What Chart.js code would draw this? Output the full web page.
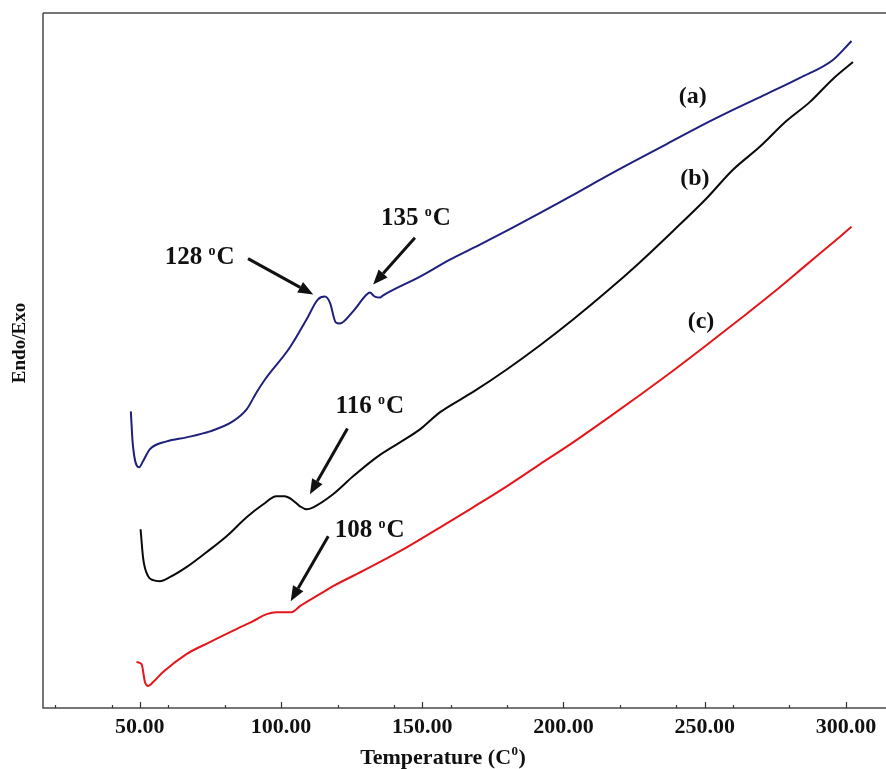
<!DOCTYPE html>
<html>
<head>
<meta charset="utf-8">
<script src="https://cdn.jsdelivr.net/npm/chart.js@4.4.1/dist/chart.umd.min.js"></script>
<style>
  html, body { margin: 0; padding: 0; background: #ffffff; }
  #wrap { width: 886px; height: 769px; position: relative; }
</style>
</head>
<body>
<div id="wrap"><canvas id="c" width="886" height="769"></canvas></div>
<script>
// ---- Data (temperature, heat flow in arbitrary units) ----
const tempA = [46.8, 47.5, 49.75, 51.1, 53.5, 59.5, 66.5, 74.8, 82.9, 87.8, 91.3, 94.3, 103.1, 109, 113, 115.5, 117.3, 119.4, 120.8, 125.4, 130.3, 131.4, 133.2, 135, 136, 149.2, 159.8, 170.4, 181.0, 191.6, 202.3, 212.9, 224.6, 236.7, 248.3, 260.0, 272.0, 283.7, 295.4, 302.0];
const heatA = [29.7, 26.4, 24.1, 24.7, 25.9, 26.7, 27.1, 27.7, 28.7, 29.9, 31.6, 32.9, 36.1, 38.9, 40.9, 41.2, 40.6, 38.6, 38.5, 39.7, 41.4, 41.6, 41.2, 41.1, 41.3, 43.2, 44.9, 46.4, 47.95, 49.55, 51.2, 52.9, 54.7, 56.5, 58.25, 59.9, 61.5, 63.1, 64.9, 66.8];

const tempB = [50.25, 51.2, 52.9, 54.7, 57.1, 60.6, 66.5, 73.6, 80.7, 87.8, 93.7, 98.4, 101.3, 103.7, 106.7, 109, 111.4, 118.4, 125.5, 133.8, 142.1, 149.2, 156.2, 168.0, 179.9, 191.6, 203.4, 215.3, 227.1, 238.9, 250.7, 260.0, 269.5, 279.0, 287.3, 295.4, 302.5];
const heatB = [17.9, 14.9, 13.2, 12.8, 12.7, 13.1, 14.1, 15.6, 17.2, 19.1, 20.4, 21.2, 21.2, 20.9, 20.2, 19.9, 20.1, 21.4, 23.2, 25.1, 26.6, 27.9, 29.6, 31.65, 33.9, 36.3, 38.9, 41.7, 44.65, 47.8, 51.05, 53.9, 56.2, 58.8, 60.7, 63.0, 64.7];

const tempC = [48.8, 50.6, 51.8, 52.9, 54.7, 58.2, 66.5, 74.8, 84.2, 90.1, 94.9, 98.4, 103.7, 106.7, 113.7, 118.4, 130.2, 142.1, 156.2, 168.0, 179.9, 191.6, 203.4, 215.3, 227.1, 238.9, 250.7, 262.5, 274.3, 286.1, 297.9, 302.0];
const heatC = [4.6, 4.4, 2.6, 2.2, 2.6, 3.6, 5.4, 6.6, 7.9, 8.7, 9.4, 9.6, 9.6, 10.2, 11.4, 12.2, 13.9, 15.7, 18.07, 20.1, 22.2, 24.4, 26.6, 28.96, 31.35, 33.8, 36.35, 38.95, 41.6, 44.4, 47.2, 48.2];

const majorTicks = [50, 100, 150, 200, 250, 300];
const minorTicks = [20, 40, 60, 80, 120, 140, 160, 180, 220, 240, 260, 280];

const curveLabels = ['(a)', '(b)', '(c)'];
const curveLabelT = [245.8, 246.5, 248.7];
const curveLabelY = [61.2, 53.0, 38.7];

const peakTexts = ['128', '135', '116', '108'];
const peakTextT = [71.2, 147.7, 131.4, 131.4];
const peakTextY = [45.3, 49.2, 30.4, 18.0];
// arrows: tail (T,Y) -> head (T,Y)
const arrowTailT = [88.3, 147.4, 123.5, 116.7];
const arrowTailY = [45.0, 47.1, 28.0, 17.2];
const arrowHeadT = [111.4, 132.6, 110.2, 103.4];
const arrowHeadY = [41.4, 42.4, 21.4, 10.7];

const xTitle = 'Temperature (C';
const xTitleSup = '0';
const yTitle = 'Endo/Exo';

const toXY = (t, h) => t.map((v, i) => ({ x: v, y: h[i] }));
const FONT = '"Liberation Serif", "Times New Roman", serif';

const decorPlugin = {
  id: 'decor',
  afterDraw(chart) {
    const ctx = chart.ctx;
    const ca = chart.chartArea;
    const xs = chart.scales.x, ys = chart.scales.y;
    ctx.save();
    // frame: left axis, top line, bottom axis
    ctx.strokeStyle = '#4a4a4a';
    ctx.lineWidth = 1.5;
    ctx.beginPath();
    ctx.moveTo(ca.left, ca.top);
    ctx.lineTo(chart.width, ca.top);
    ctx.moveTo(ca.left, ca.top);
    ctx.lineTo(ca.left, ca.bottom);
    ctx.lineTo(chart.width, ca.bottom);
    ctx.stroke();
    // inward ticks
    ctx.strokeStyle = '#333';
    ctx.lineWidth = 1.2;
    ctx.beginPath();
    majorTicks.forEach(v => { const px = Math.round(xs.getPixelForValue(v)) + 0.5; ctx.moveTo(px, ca.bottom); ctx.lineTo(px, ca.bottom - 6); });
    minorTicks.forEach(v => { const px = Math.round(xs.getPixelForValue(v)) + 0.5; ctx.moveTo(px, ca.bottom); ctx.lineTo(px, ca.bottom - 3); });
    ctx.stroke();

    ctx.fillStyle = '#111';
    // curve labels
    ctx.font = 'bold 24px ' + FONT;
    ctx.textAlign = 'center';
    ctx.textBaseline = 'middle';
    curveLabels.forEach((t, i) => ctx.fillText(t, xs.getPixelForValue(curveLabelT[i]), ys.getPixelForValue(curveLabelY[i])));

    // peak labels "NNN ºC"
    const big = 25, small = 14;
    peakTexts.forEach((t, i) => {
      const cx = xs.getPixelForValue(peakTextT[i]);
      const cy = ys.getPixelForValue(peakTextY[i]);
      ctx.font = 'bold ' + big + 'px ' + FONT;
      const w1 = ctx.measureText(t + ' ').width;
      const w3 = ctx.measureText('C').width;
      ctx.font = 'bold ' + small + 'px ' + FONT;
      const w2 = ctx.measureText('o').width + 1;
      const total = w1 + w2 + w3;
      let x = cx - total / 2;
      const base = cy + big * 0.34;
      ctx.textAlign = 'left';
      ctx.textBaseline = 'alphabetic';
      ctx.font = 'bold ' + big + 'px ' + FONT;
      ctx.fillText(t + ' ', x, base);
      x += w1;
      ctx.font = 'bold ' + small + 'px ' + FONT;
      ctx.fillText('o', x, base - big * 0.36);
      x += w2;
      ctx.font = 'bold ' + big + 'px ' + FONT;
      ctx.fillText('C', x, base);
    });

    // arrows
    ctx.strokeStyle = '#111';
    ctx.fillStyle = '#111';
    ctx.lineWidth = 3;
    arrowTailT.forEach((t, i) => {
      const x1 = xs.getPixelForValue(t), y1 = ys.getPixelForValue(arrowTailY[i]);
      const x2 = xs.getPixelForValue(arrowHeadT[i]), y2 = ys.getPixelForValue(arrowHeadY[i]);
      const ang = Math.atan2(y2 - y1, x2 - x1);
      const hl = 15, hw = 6;
      const bx = x2 - hl * Math.cos(ang), by = y2 - hl * Math.sin(ang);
      ctx.beginPath();
      ctx.moveTo(x1, y1);
      ctx.lineTo(bx, by);
      ctx.stroke();
      ctx.beginPath();
      ctx.moveTo(x2, y2);
      ctx.lineTo(bx + hw * Math.sin(ang), by - hw * Math.cos(ang));
      ctx.lineTo(bx - hw * Math.sin(ang), by + hw * Math.cos(ang));
      ctx.closePath();
      ctx.fill();
    });

    // x title with superscript
    ctx.fillStyle = '#111';
    ctx.textAlign = 'left';
    ctx.textBaseline = 'alphabetic';
    ctx.font = 'bold 22px ' + FONT;
    const tw = ctx.measureText(xTitle).width;
    const pw = ctx.measureText(')').width;
    ctx.font = 'bold 13px ' + FONT;
    const sw = ctx.measureText(xTitleSup).width + 1;
    let tx = 443 - (tw + sw + pw) / 2;
    const tb = 764;
    ctx.font = 'bold 22px ' + FONT;
    ctx.fillText(xTitle, tx, tb);
    tx += tw;
    ctx.font = 'bold 13px ' + FONT;
    ctx.fillText(xTitleSup, tx + 0.5, tb - 9);
    tx += sw;
    ctx.font = 'bold 22px ' + FONT;
    ctx.fillText(')', tx, tb);

    // y title
    ctx.save();
    ctx.translate(20, 343);
    ctx.rotate(-Math.PI / 2);
    ctx.font = 'bold 19px ' + FONT;
    ctx.textAlign = 'center';
    ctx.textBaseline = 'middle';
    ctx.fillText(yTitle, 0, 0);
    ctx.restore();

    ctx.restore();
  }
};

new Chart(document.getElementById('c'), {
  type: 'line',
  data: {
    datasets: [
      { label: '(a)', data: toXY(tempA, heatA), borderColor: '#1f1f7e', borderWidth: 2 },
      { label: '(b)', data: toXY(tempB, heatB), borderColor: '#0a0a0a', borderWidth: 2 },
      { label: '(c)', data: toXY(tempC, heatC), borderColor: '#e4161a', borderWidth: 2 }
    ]
  },
  options: {
    responsive: false,
    animation: false,
    events: [],
    layout: { padding: { left: 43, right: 0, top: 13, bottom: 22.6 } },
    elements: {
      point: { radius: 0 },
      line: { cubicInterpolationMode: 'monotone', fill: false }
    },
    plugins: { legend: { display: false }, tooltip: { enabled: false } },
    scales: {
      x: {
        type: 'linear',
        min: 15.7,
        max: 314.2,
        grid: { display: false, drawTicks: false },
        border: { display: false },
        afterBuildTicks: (s) => { s.ticks = majorTicks.map(v => ({ value: v })); },
        ticks: {
          padding: 6,
          autoSkip: false,
          maxRotation: 0,
          color: '#111',
          font: { family: FONT, size: 22, weight: 'bold' },
          callback: (v) => Number(v).toFixed(2)
        }
      },
      y: {
        display: false,
        min: 0,
        max: 69.6
      }
    }
  },
  plugins: [decorPlugin]
});
</script>
</body>
</html>
